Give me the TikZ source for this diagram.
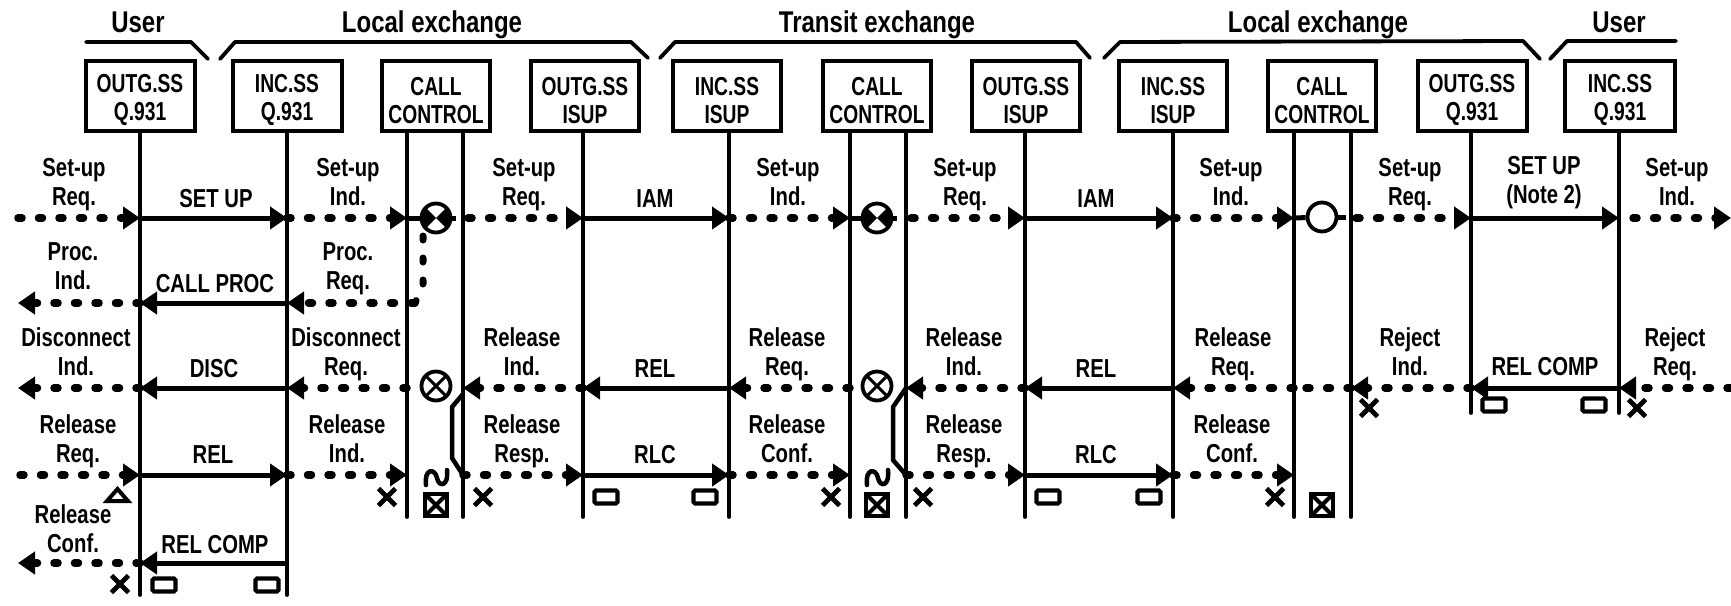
\documentclass[tikz,border=0pt]{standalone}
\usepackage{fontspec}
\setmainfont[FakeStretch=0.78]{Liberation Sans}
\newfontfamily\boxfont[FakeStretch=0.74]{Liberation Sans}
\newfontfamily\titlefont[FakeStretch=0.8]{Liberation Sans}
\usetikzlibrary{arrows.meta,shapes.misc,calc}
\newcommand{\mystrut}{\rule[-7pt]{0pt}{22pt}}
\newcommand{\lbl}[5]{\node[lab] (#1) at (#2,#3) {\mystrut #4\\\mystrut #5};}
\newcommand{\slbl}[4]{\node[lab,anchor=base] (#1) at (#2,#3) {#4};}
\newcommand{\bx}[5]{\node[boxn,minimum width=#3] (#1) at (#2,96) {\rule{0pt}{27pt}#4\\#5};}
\newcommand{\ttl}[3]{\node[titl] (#1) at (#2,32) {#3};}
\tikzset{
  lab/.style={font=\fontsize{26}{29}\selectfont\bfseries,align=center,inner sep=0pt},
  titl/.style={font=\titlefont\fontsize{30}{30}\selectfont\bfseries,anchor=base,inner sep=0pt},
  boxn/.style={draw,line width=4pt,minimum height=70pt,inner sep=0pt,align=center,
    font=\boxfont\fontsize{26}{28}\selectfont\bfseries,fill=white},
  life/.style={line width=3.8pt,line cap=round},
  brace/.style={line width=3.8pt,line cap=round,line join=round},
  msg/.style={line width=5pt,-{Triangle[length=17pt,width=22pt]}},
  dsh/.style={line width=7.5pt,line cap=round,dash pattern=on 4pt off 16.5pt,-{Triangle[length=17pt,width=22pt,line cap=butt]}},
  dshn/.style={line width=7pt,line cap=round,dash pattern=on 4pt off 18pt},
  dshp/.style={line width=7.5pt,line cap=round,dash pattern=on 4pt off 16.5pt},
  stub/.style={line width=5pt},
  link/.style={line width=4.5pt,line join=round},
  sym/.style={circle,draw,line width=3.8pt,minimum size=29pt,inner sep=0pt,fill=white},
  symfill/.style={sym,path picture={
    \fill[black] (path picture bounding box.center)--(path picture bounding box.north west)--(path picture bounding box.south west)--cycle;
    \fill[black] (path picture bounding box.center)--(path picture bounding box.north east)--(path picture bounding box.south east)--cycle;}},
  symx/.style={sym,path picture={
    \draw[line width=3pt] (path picture bounding box.north west)--(path picture bounding box.south east);
    \draw[line width=3pt] (path picture bounding box.north east)--(path picture bounding box.south west);}},
  sqx/.style={draw,line width=4.5pt,minimum size=22pt,inner sep=0pt,path picture={
    \draw[line width=4pt] (path picture bounding box.north west)--(path picture bounding box.south east);
    \draw[line width=4pt] (path picture bounding box.north east)--(path picture bounding box.south west);}},
  xm/.style={cross out,draw,line width=4.8pt,minimum width=17pt,minimum height=17pt,inner sep=0pt,outer sep=0pt},
  tim/.style={draw,line width=4.2pt,rounded corners=1.5pt,minimum width=23pt,minimum height=13pt,inner sep=0pt},
  wave/.style={line width=4.5pt,line cap=round},
  tri/.style={line width=4pt,line join=miter}
}
\begin{document}
\begin{tikzpicture}[x=1pt,y=-1pt]
\useasboundingbox (0,0) rectangle (1731,605);
% grid of lifeline / row coordinates
\foreach \n/\x in {1/140,2/287,3/407,4/463,5/583,6/729,7/850,8/906,9/1025,10/1173,11/1294,12/1351,13/1471,14/1619}{
  \foreach \r/\y in {A/218,B/303,C/388,D/475,E/563}{
    \coordinate (L\n\r) at (\x,\y);
  }
}
\foreach \n/\x/\y in {1/140/595,2/287/595,3/407/517,4/463/517,5/583/517,6/729/517,7/850/517,8/906/517,9/1025/517,10/1173/517,11/1294/517,12/1351/517,13/1471/413,14/1619/413}{
  \coordinate (E\n) at (\x,\y);
}
\coordinate (wA) at (18,218);
\coordinate (wB) at (18,303);
\coordinate (wC) at (18,388);
\coordinate (wD) at (20,475);
\coordinate (wE) at (18,563);
\coordinate (rA) at (1731,218);
\coordinate (rC) at (1731,388);
% titles
\ttl{t1}{138}{User}
\ttl{t2}{432}{Local exchange}
\ttl{t3}{877}{Transit exchange}
\ttl{t4}{1318}{Local exchange}
\ttl{t5}{1619}{User}
% brackets
\draw[brace] (86,42)--(191,42)--(208,59);
\draw[brace] (220,59)--(235,42)--(631,42)--(648,58);
\draw[brace] (660,58)--(675,42)--(1076,42)--(1090,58);
\draw[brace] (1104,58)--(1120,42)--(1523,41)--(1540,59);
\draw[brace] (1550,59)--(1567,41)--(1676,41);
% boxes
\bx{b1}{140}{109}{OUTG.SS}{Q.931}
\bx{b2}{287}{109}{INC.SS}{Q.931}
\bx{b3}{436}{108}{CALL}{CONTROL}
\bx{b4}{585}{108}{OUTG.SS}{ISUP}
\bx{b5}{727}{108}{INC.SS}{ISUP}
\bx{b6}{877}{108}{CALL}{CONTROL}
\bx{b7}{1026}{108}{OUTG.SS}{ISUP}
\bx{b8}{1173}{108}{INC.SS}{ISUP}
\bx{b9}{1322}{108}{CALL}{CONTROL}
\bx{b10}{1472}{109}{OUTG.SS}{Q.931}
\bx{b11}{1620}{110}{INC.SS}{Q.931}
% lifelines
\draw[life] (b1.south -| E1)--(E1);
\draw[life] (b2.south -| E2)--(E2);
\draw[life] (b3.south -| E3)--(E3);
\draw[life] (b3.south -| E4)--(E4);
\draw[life] (b4.south -| E5)--(E5);
\draw[life] (b5.south -| E6)--(E6);
\draw[life] (b6.south -| E7)--(E7);
\draw[life] (b6.south -| E8)--(E8);
\draw[life] (b7.south -| E9)--(E9);
\draw[life] (b8.south -| E10)--(E10);
\draw[life] (b9.south -| E11)--(E11);
\draw[life] (b9.south -| E12)--(E12);
\draw[life] (b10.south -| E13)--(E13);
\draw[life] (b11.south -| E14)--(E14);
% row A
\draw[dsh] (wA)--(L1A);
\draw[msg] (L1A)--(L2A);
\draw[dsh] (L2A)--(L3A);
\draw[dsh] ($(L4A)+(5,0)$)--(L5A);
\draw[msg] (L5A)--(L6A);
\draw[dsh] (L6A)--(L7A);
\draw[dsh] ($(L8A)+(5,0)$)--(L9A);
\draw[msg] (L9A)--(L10A);
\draw[dsh] (L10A)--(L11A);
\draw[dsh] ($(L12A)+(5,0)$)--(L13A);
\draw[msg] (L13A)--(L14A);
\draw[dsh] ($(L14A)+(14,0)$)--(rA);
% row B
\coordinate (cb1) at (423,236);
\coordinate (cb2) at (423,285);
\coordinate (cb3) at (415,303);
\draw[dshn] (cb1)--(cb2)--(cb3);
\draw[dsh] (cb3)--(L2B);
\draw[msg] (L2B)--(L1B);
\draw[dsh] (L1B)--(wB);
% row C
\draw[dsh] (L1C)--(wC);
\draw[msg] (L2C)--(L1C);
\draw[dsh] (L3C)--(L2C);
\draw[dsh] (L5C)--(L4C);
\draw[msg] (L6C)--(L5C);
\draw[dsh] (L7C)--(L6C);
\draw[dsh] (L9C)--(L8C);
\draw[msg] (L10C)--(L9C);
\draw[dsh] (L11C)--(L10C);
\draw[dshp] (L12C)--(L11C);
\draw[dsh] (L13C)--(L12C);
\draw[msg] (L14C)--(L13C);
\draw[dsh] (rC)--(L14C);
% row D
\draw[dsh] (wD)--(L1D);
\draw[msg] (L1D)--(L2D);
\draw[dsh] (L2D)--(L3D);
\draw[dsh] (L4D)--(L5D);
\draw[msg] (L5D)--(L6D);
\draw[dsh] (L6D)--(L7D);
\draw[dsh] (L8D)--(L9D);
\draw[msg] (L9D)--(L10D);
\draw[dsh] (L10D)--(L11D);
% row E
\draw[msg] (L2E)--(L1E);
\draw[dsh] (L1E)--(wE);
% call-control symbols
\node[symfill] (c1) at (436,218) {};
\node[symfill] (c2) at (877,218) {};
\node[sym] (c3) at (1322,217) {};
\draw[stub] (L3A)--(c1);
\draw[stub] (c1)--(456,218);
\draw[stub] (L7A)--(c2);
\draw[stub] (c2)--(897,218);
\draw[stub] (L11A)--(c3);
\draw[stub] (c3)--(1346,217);
\node[symx] (x1) at (436,386) {};
\node[symx] (x2) at (877,386) {};
% links
\coordinate (k1a) at (452,407);
\coordinate (k1b) at (452,458);
\draw[link] ($(L4C)+(0,6)$)--(k1a)--(k1b)--(L4D);
\coordinate (k2a) at (893,407);
\coordinate (k2b) at (893,460);
\draw[link] (L8C)--(k2a)--(k2b)--(L8D);
% waves and boxed crosses
\draw[wave] (426,485) .. controls (424,468) and (435,468) .. (437,478) .. controls (439,488) and (449,486) .. (447,470);
\draw[wave] (867,485) .. controls (865,468) and (876,468) .. (878,478) .. controls (880,488) and (890,486) .. (888,470);
\node[sqx] (q1) at (436,505) {};
\node[sqx] (q2) at (877,505) {};
\node[sqx] (q3) at (1322,505) {};
% crosses
\node[xm] (m1) at (387,497) {};
\node[xm] (m2) at (483,497) {};
\node[xm] (m3) at (120,584) {};
\node[xm] (m4) at (831,497) {};
\node[xm] (m5) at (923,497) {};
\node[xm] (m6) at (1275,497) {};
\node[xm] (m7) at (1369,408) {};
\node[xm] (m8) at (1637,408) {};
% timers
\node[tim] (r1) at (606,497) {};
\node[tim] (r2) at (705,497) {};
\node[tim] (r3) at (1048,497) {};
\node[tim] (r4) at (1149,497) {};
\node[tim] (r5) at (164,585) {};
\node[tim] (r6) at (267,585) {};
\node[tim] (r7) at (1494,405) {};
\node[tim] (r8) at (1594,405) {};
% triangle
\draw[tri] (117.5,489)--(128,501)--(107,501)--cycle;
% labels row A
\lbl{a1}{74}{185}{Set-up}{Req.}
\lbl{a2}{348}{185}{Set-up}{Ind.}
\lbl{a3}{524}{185}{Set-up}{Req.}
\lbl{a4}{788}{185}{Set-up}{Ind.}
\lbl{a5}{965}{185}{Set-up}{Req.}
\lbl{a6}{1231}{185}{Set-up}{Ind.}
\lbl{a7}{1410}{185}{Set-up}{Req.}
\lbl{a8}{1544}{183}{SET UP}{(Note 2)}
\lbl{a9}{1677}{185}{Set-up}{Ind.}
\slbl{am1}{216}{207}{SET UP}
\slbl{am2}{655}{207}{IAM}
\slbl{am3}{1096}{207}{IAM}
% row B
\lbl{b1l}{73}{270}{Proc.}{Ind.}
\lbl{b2l}{348}{270}{Proc.}{Req.}
\slbl{bm1}{215}{292}{CALL PROC}
% row C
\lbl{c1l}{76}{355}{Disconnect}{Ind.}
\lbl{c2l}{346}{355}{Disconnect}{Req.}
\lbl{c3l}{522}{355}{Release}{Ind.}
\lbl{c4l}{787}{355}{Release}{Req.}
\lbl{c5l}{964}{355}{Release}{Ind.}
\lbl{c6l}{1233}{355}{Release}{Req.}
\lbl{c7l}{1410}{355}{Reject}{Ind.}
\lbl{c8l}{1675}{355}{Reject}{Req.}
\slbl{cm1}{214}{377}{DISC}
\slbl{cm2}{655}{377}{REL}
\slbl{cm3}{1096}{377}{REL}
\slbl{cm4}{1545}{375}{REL COMP}
% row D
\lbl{d1l}{78}{442}{Release}{Req.}
\lbl{d2l}{347}{442}{Release}{Ind.}
\lbl{d3l}{522}{442}{Release}{Resp.}
\lbl{d4l}{787}{442}{Release}{Conf.}
\lbl{d5l}{964}{442}{Release}{Resp.}
\lbl{d6l}{1232}{442}{Release}{Conf.}
\slbl{dm1}{213}{463}{REL}
\slbl{dm2}{655}{463}{RLC}
\slbl{dm3}{1096}{463}{RLC}
% row E
\lbl{e1l}{73}{532}{Release}{Conf.}
\slbl{em1}{215}{553}{REL COMP}
\end{tikzpicture}
\end{document}
